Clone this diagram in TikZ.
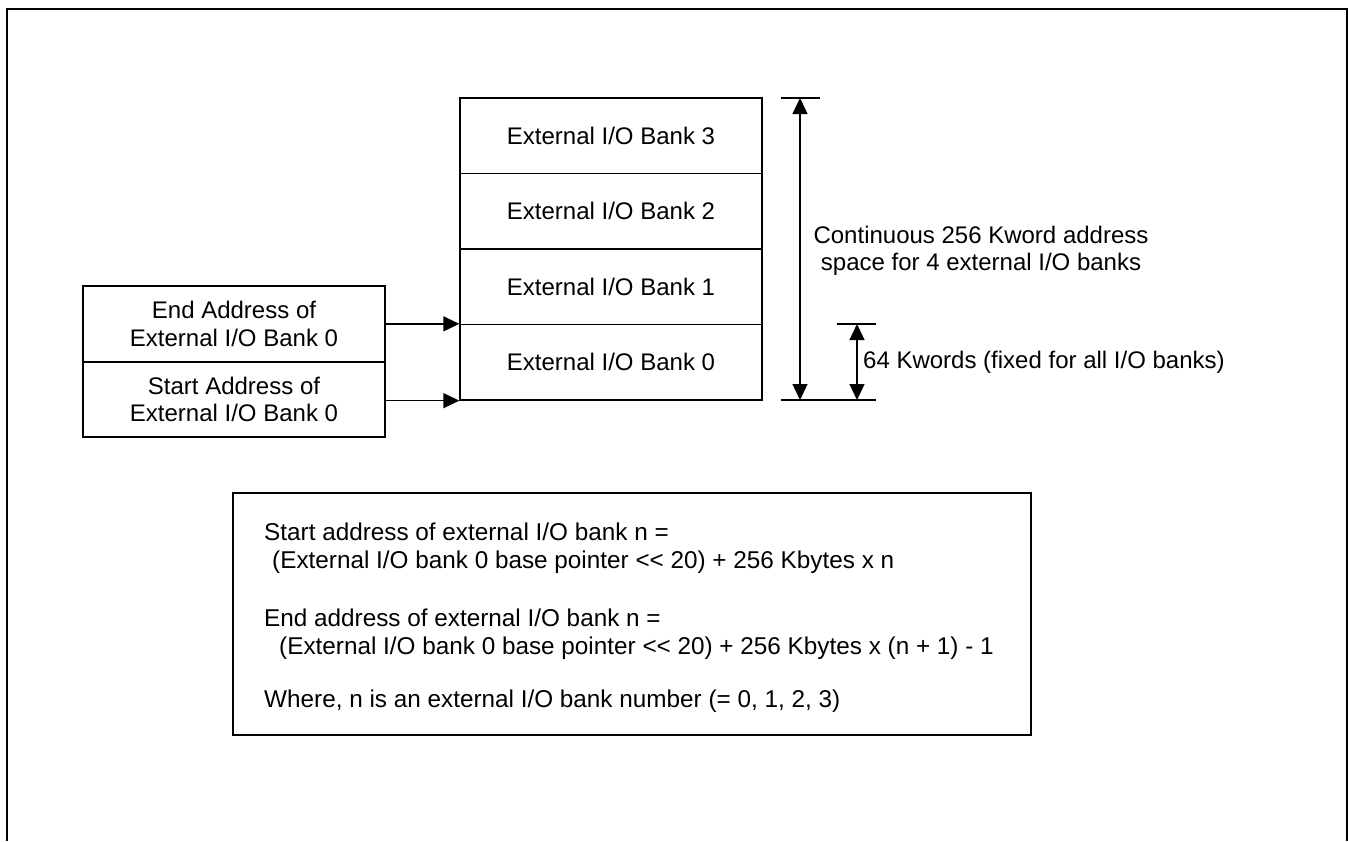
\documentclass[tikz,border=0pt]{standalone}
\usepackage{fontspec}
\setmainfont{Liberation Sans}
\usetikzlibrary{arrows.meta}
\newcommand{\shl}{<\kern0pt<}
\begin{document}
\begin{tikzpicture}[x=1pt,y=-1pt,
  every node/.style={font=\fontsize{24}{27.5}\selectfont},
  line/.style={line width=1.3pt},
  bankbox/.style={draw,line width=1.3pt,minimum width=302pt,minimum height=75.5pt,inner sep=0pt},
  addrbox/.style={draw,line width=1.3pt,minimum width=302pt,inner sep=0pt,align=center},
  arr/.style={line width=1.3pt,-{Triangle[length=16pt,width=15pt]}},
  dimarr/.style={line width=1.3pt,{Triangle[length=16pt,width=15pt]}-{Triangle[length=16pt,width=15pt]}},
  txt/.style={anchor=base west,inner sep=0pt,font=\fontsize{24.3}{28}\selectfont}]
\useasboundingbox (0,0) rectangle (1348,841);
% outer frame (open at the bottom)
\draw[line width=2.5pt] (7,841) -- (7,9) -- (1347,9) -- (1347,841);
% bank stack
\node[bankbox] (b3) at (611,135.75) {External I/O Bank 3};
\node[bankbox] (b2) at (611,211.25) {External I/O Bank 2};
\node[bankbox] (b1) at (611,286.75) {External I/O Bank 1};
\node[bankbox] (b0) at (611,362.25) {External I/O Bank 0};
% address boxes
\node[addrbox,minimum height=76pt] (endbox) at (234,324) {End Address of\\External I/O Bank 0};
\node[addrbox,minimum height=75pt] (startbox) at (234,399.5) {Start Address of\\External I/O Bank 0};
\draw[arr] (endbox.east |- b0.north west) -- (b0.north west);
\draw[arr] (startbox.east |- b0.south west) -- (b0.south west);
% dimension marks
\coordinate (t1a) at (781,98);  \coordinate (t1b) at (820,98);
\coordinate (t2a) at (781,400); \coordinate (t2b) at (876,400);
\coordinate (t3a) at (837,324); \coordinate (t3b) at (876,324);
\coordinate (bigtop) at (800,98); \coordinate (bigbot) at (800,400);
\coordinate (smtop) at (857,324); \coordinate (smbot) at (857,400);
\draw[line] (t1a) -- (t1b);
\draw[line] (t2a) -- (t2b);
\draw[line] (t3a) -- (t3b);
\draw[dimarr] (bigbot) -- (bigtop);
\draw[dimarr] (smbot) -- (smtop);
\node[align=center,inner sep=0pt] (cont) at (981,251) {Continuous 256 Kword address\\space for 4 external I/O banks};
\node[anchor=west,inner sep=0pt] (kw) at (863,362) {64 Kwords (fixed for all I/O banks)};
% formula box
\node[draw,line width=1.3pt,minimum width=798pt,minimum height=242pt,inner sep=0pt] (fbox) at (632,614) {};
\node[txt] (l1) at (264,540) {Start address of external I/O bank n =};
\node[txt] (l2) at (264,568) {\hspace*{8pt}(External I/O bank 0 base pointer \shl{} 20) + 256 Kbytes x n};
\node[txt] (l3) at (264,626) {End address of external I/O bank n =};
\node[txt] (l4) at (264,654) {\hspace*{15pt}(External I/O bank 0 base pointer \shl{} 20) + 256 Kbytes x (n + 1) - 1};
\node[txt] (l5) at (264,707) {Where, n is an external I/O bank number (= 0, 1, 2, 3)};
\end{tikzpicture}
\end{document}
